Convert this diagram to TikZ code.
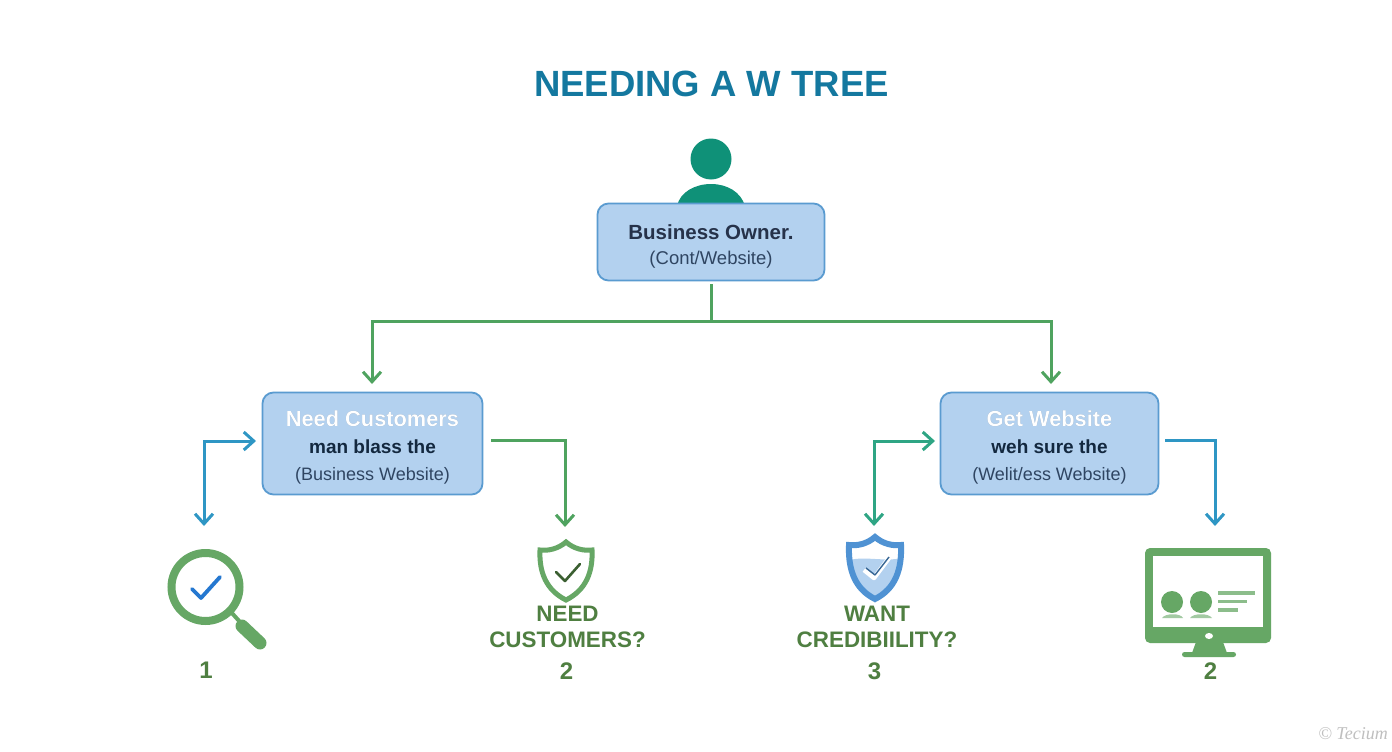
\documentclass[tikz,border=0pt]{standalone}
\usepackage{fontspec}
\setmainfont{Liberation Sans}
\newfontfamily\wmfont{Liberation Serif}
\usepackage[outline]{contour}
\contourlength{0.5pt}
\usetikzlibrary{arrows.meta,calc}
\definecolor{boxfill}{HTML}{B3D1EF}
\definecolor{boxline}{HTML}{5A9BD0}
\definecolor{linegreen}{HTML}{4FA35F}
\definecolor{lineblue}{HTML}{2E96C4}
\definecolor{lineteal}{HTML}{2EA584}
\definecolor{titleblue}{HTML}{14789F}
\definecolor{persongreen}{HTML}{0F9178}
\definecolor{icongreen}{HTML}{66A765}
\definecolor{labelgreen}{HTML}{4F7F41}
\definecolor{inkdark}{HTML}{26324A}
\definecolor{inkblue}{HTML}{13283F}
\definecolor{inksoft}{HTML}{2F4562}
\definecolor{halo}{HTML}{6C8FB5}
\definecolor{shieldblue}{HTML}{4F92D3}
\tikzset{
  x=1pt,y=-1pt,
  box/.style={draw=boxline,line width=1.8pt,fill=boxfill,rounded corners=11pt,inner sep=0pt,align=center,font=\fontsize{19}{27}\selectfont},
  conn/.style={line width=3pt,line join=miter},
  tip/.style={-{Straight Barb[length=10pt,width=18pt,line width=3pt]}},
  twotip/.style={{Straight Barb[length=10pt,width=18pt,line width=3pt]}-{Straight Barb[length=10pt,width=18pt,line width=3pt]}},
  caption/.style={text=labelgreen,font=\fontsize{22.4}{26}\selectfont\bfseries,align=center,inner sep=0pt},
  num/.style={text=labelgreen,font=\fontsize{24}{26}\selectfont\bfseries,inner sep=0pt},
}
\newcommand{\boxhead}[1]{{\rule{0pt}{24pt}\fontsize{21.8}{27}\selectfont\bfseries\contour{halo}{\textcolor{white}{#1}}}}
\newcommand{\boxmid}[1]{{\fontsize{19}{27}\selectfont\bfseries\textcolor{inkblue}{#1}}}
\newcommand{\boxlow}[1]{{\fontsize{18}{27}\selectfont\textcolor{inksoft}{#1}}}
\begin{document}
\begin{tikzpicture}
\useasboundingbox (0,0) rectangle (1392,752);
\fill[white] (0,0) rectangle (1392,752);
% title
\node[text=titleblue,font=\fontsize{36.5}{40}\selectfont\bfseries,inner sep=0pt] (title) at (711.5,84) {NEEDING A W TREE};
% person
\fill[persongreen] (711,159) circle (20.5);
\fill[persongreen] (677,206) .. controls (680,192) and (695,184) .. (711,184) .. controls (727,184) and (741,192) .. (745,206) -- cycle;
% boxes
\node[box,font=\fontsize{19}{25}\selectfont,minimum width=227pt,minimum height=77pt] (owner) at (711,242)
  {{\rule{0pt}{24pt}\fontsize{20.5}{25}\selectfont\bfseries\textcolor{inkdark}{Business Owner.}}\\{\fontsize{18.5}{25}\selectfont\textcolor{inksoft}{(Cont/Website)}}};
\node[box,minimum width=220pt,minimum height=102pt] (need) at (372.5,443.5)
  {\boxhead{Need Customers}\\\boxmid{man blass the}\\\boxlow{(Business Website)}};
\node[box,minimum width=218pt,minimum height=102pt] (get) at (1049.5,443.5)
  {\boxhead{Get Website}\\\boxmid{weh sure the}\\\boxlow{(Welit/ess Website)}};
% trunk and branches
\coordinate (bus) at (711,321);
\coordinate (needin) at (372,384);
\coordinate (getin) at (1051,384);
\draw[conn,linegreen,shorten <=3pt] (owner.south) -- (bus);
\draw[conn,linegreen,tip] (bus) -| (needin);
\draw[conn,linegreen,tip] (bus) -| (getin);
% left box connectors
\coordinate (nl) at (256,441);
\coordinate (nlk) at (204,441);
\coordinate (mag) at (204,526);
\draw[conn,lineblue,twotip] (nl) -- (nlk) -- (mag);
\coordinate (nr) at (491,440);
\coordinate (shA) at (565,527);
\draw[conn,linegreen,tip] (nr) -| (shA);
% right box connectors
\coordinate (gl) at (935,441);
\coordinate (glk) at (874,441);
\coordinate (shB) at (874,526);
\draw[conn,lineteal,twotip] (gl) -- (glk) -- (shB);
\coordinate (gr) at (1165,440);
\coordinate (mon) at (1215,526);
\draw[conn,lineblue,tip] (gr) -| (mon);
% magnifier
\draw[icongreen,line width=8pt] (205.5,587) circle (34);
\draw[icongreen,line width=4pt] (231,612) -- (240,622);
\draw[icongreen,line width=13pt,line cap=round] (242,626) -- (260,643);
\draw[lineblue!80!blue,line width=3.8pt,line cap=round,line join=round] (192,589) -- (201,598) -- (220,577);
% shield 1
\draw[icongreen,line width=5pt,line join=miter] (566,542) .. controls (574,549) and (584,551) .. (592,550)
  .. controls (593,572) and (586,590) .. (566,600) .. controls (546,590) and (539,572) .. (540,550)
  .. controls (548,551) and (558,549) .. (566,542) -- cycle;
\draw[labelgreen!75!black,line width=2.6pt,line cap=round,line join=round] (556,572) -- (565,581) -- (580,564);
% shield 2
\begin{scope}
\clip (875,537) .. controls (883,544) and (893,546) .. (901,545) .. controls (902,570) and (895,589) .. (875,599) .. controls (855,589) and (848,570) .. (849,545) .. controls (857,546) and (867,544) .. (875,537) -- cycle;
\fill[boxfill] (850,560) .. controls (865,556) and (885,562) .. (902,558) -- (902,600) -- (848,600) -- cycle;
\end{scope}
\draw[shieldblue,line width=6pt,line join=miter] (875,537) .. controls (883,544) and (893,546) .. (901,545) .. controls (902,570) and (895,589) .. (875,599) .. controls (855,589) and (848,570) .. (849,545) .. controls (857,546) and (867,544) .. (875,537) -- cycle;
\draw[white,line width=4.5pt,line join=round] (864,570) -- (874,578) -- (889,558);
\draw[shieldblue!70!black,line width=1.4pt,line join=round] (866,568) -- (875,575) -- (889,557);
% monitor
\fill[icongreen,rounded corners=5pt] (1145,548) rectangle (1271,643);
\fill[white] (1153,556) rectangle (1263,627);
\fill[icongreen] (1196,642) -- (1223,642) -- (1227,653) -- (1192,653) -- cycle;
\fill[icongreen,rounded corners=2.5pt] (1182,652) rectangle (1236,657);
\fill[white] (1209,636) ellipse (4 and 3);
\fill[icongreen] (1172,602) circle (11) (1201,602) circle (11);
\fill[icongreen!60] (1162,618) .. controls (1165,613) and (1181,613) .. (1183,618) -- cycle;
\fill[icongreen!60] (1190,618) .. controls (1193,613) and (1209,613) .. (1212,618) -- cycle;
\draw[icongreen!75,line width=3.2pt] (1218,593) -- (1255,593) (1218,601.5) -- (1247,601.5) (1218,610) -- (1238,610);
% labels
\node[num] (one) at (206,670) {1};
\node[caption] (capA) at (567.5,626.5) {NEED\\CUSTOMERS?};
\node[num] (two) at (566.5,671) {2};
\node[caption] (capB) at (877,626.5) {WANT\\CREDIBIILITY?};
\node[num] (three) at (874.5,671) {3};
\node[num] (twob) at (1210.5,671) {2};
% watermark
\node[text=black!25,font=\wmfont\itshape\fontsize{18}{20}\selectfont,inner sep=0pt] (mark) at (1353,734) {© Tecium};
\end{tikzpicture}
\end{document}
